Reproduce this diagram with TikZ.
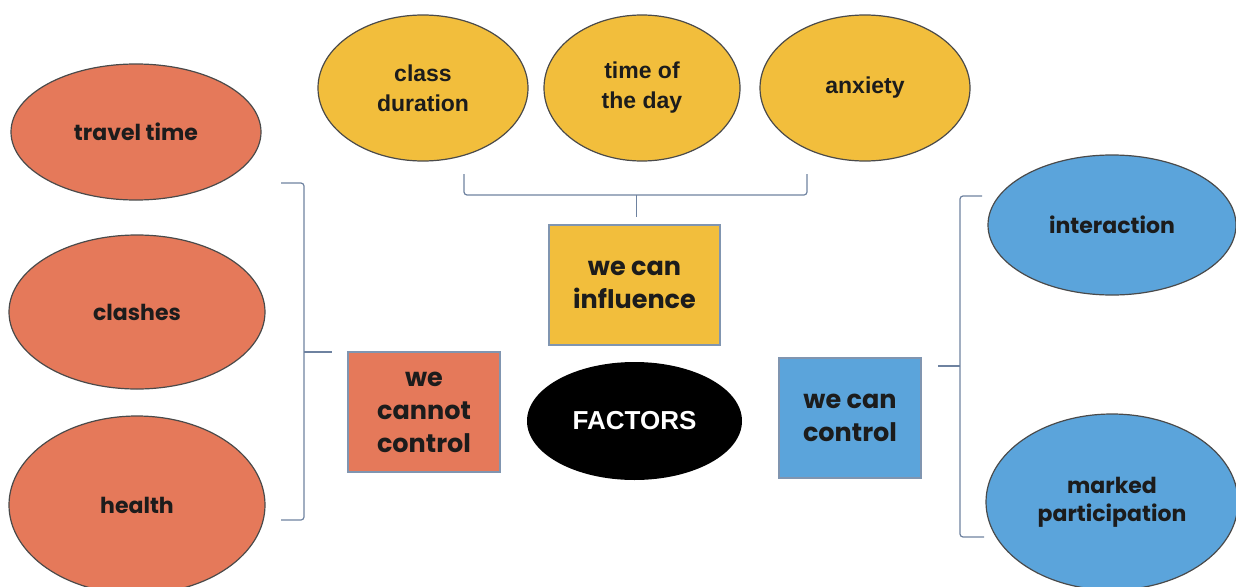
\documentclass[tikz,border=0pt]{standalone}
\usepackage{fontspec}
\setmainfont{Liberation Sans}
\newfontfamily\heavyfont{Poppins}
\usetikzlibrary{shapes.geometric,calc}
\definecolor{fc-orange}{HTML}{E5795A}
\definecolor{fc-yellow}{HTML}{F2BE3C}
\definecolor{fc-blue}{HTML}{5BA4DB}
\definecolor{fc-ink}{HTML}{1C1C1C}
\definecolor{fc-rim}{HTML}{4A4A4A}
\definecolor{fc-edge}{HTML}{8095B0}
\definecolor{fc-brace}{HTML}{6E82A0}

\begin{document}
\begin{tikzpicture}[
  x=1pt,y=-1pt,
  oval/.style={ellipse,draw=fc-rim,line width=1.2pt,inner sep=0pt,align=center,
               font=\heavyfont\fontsize{22}{28}\selectfont\bfseries,text=fc-ink},
  plainoval/.style={oval,font=\fontsize{23}{30}\selectfont\bfseries},
  tag/.style={rectangle,draw=fc-edge,line width=1.5pt,inner sep=0pt,align=center,
              font=\heavyfont\fontsize{25.5}{33}\selectfont\bfseries,text=fc-ink},
  brace/.style={fc-brace,line width=1.2pt,rounded corners=3pt}
]
\useasboundingbox (0,0) rectangle (1236,586);

\node[oval,fill=fc-orange,minimum width=250pt,minimum height=136pt] (travel)  at (136,132) {travel time};
\node[oval,fill=fc-orange,minimum width=256pt,minimum height=154pt] (clash)   at (137,312) {clashes};
\node[oval,fill=fc-orange,minimum width=256pt,minimum height=178pt] (health)  at (137,505) {health};

\node[plainoval,fill=fc-yellow,minimum width=210pt,minimum height=146pt] (dur)     at (423,88)  {class\\duration};
\node[plainoval,fill=fc-yellow,minimum width=196pt,minimum height=146pt] (daytime) at (642,88)  {time of\\the day};
\node[plainoval,fill=fc-yellow,minimum width=210pt,minimum height=146pt] (anx)     at (865,88)  {anxiety};

\node[oval,fill=fc-blue,minimum width=248pt,minimum height=140pt] (inter)   at (1112,225) {interaction};
\node[oval,fill=fc-blue,minimum width=252pt,minimum height=176pt] (marked)  at (1112,502) {marked\\participation};

\node[tag,fill=fc-yellow,minimum width=171pt,minimum height=120pt] (infl)    at (634.5,285) {we can\\influence};
\node[tag,fill=fc-orange,minimum width=152pt,minimum height=120pt] (nocon)   at (424,412)   {we\\cannot\\control};
\node[tag,fill=fc-blue,minimum width=142pt,minimum height=120pt]   (con)     at (850,418)   {we can\\control};
\node[ellipse,fill=black,inner sep=0pt,minimum width=215pt,minimum height=118pt,
      text=white,font=\fontsize{26}{30}\selectfont\bfseries] (factors) at (634.5,421) {FACTORS};

\coordinate (tl) at (464,174);
\coordinate (tr) at (807,174);
\coordinate (tmid) at (636.5,195);
\draw[brace] (tl) -- ++(0,21) -- ($(tr)+(0,21)$) -- (tr);
\draw[brace] (tmid) -- ($(tmid)+(0,22)$);

\coordinate (lt) at (281,183);
\coordinate (lb) at (281,520);
\coordinate (lmid) at (304,352);
\draw[brace] (lt) -- ++(23,0) -- ($(lb)+(23,0)$) -- (lb);
\draw[brace] (lmid) -- ++(28,0);

\coordinate (rt) at (982,196);
\coordinate (rb) at (984,537);
\coordinate (rmid) at (960,366);
\draw[brace] (rt) -- (960,196) -- (960,537) -- (rb);
\draw[brace] (rmid) -- ++(-22,0);

\end{tikzpicture}
\end{document}
